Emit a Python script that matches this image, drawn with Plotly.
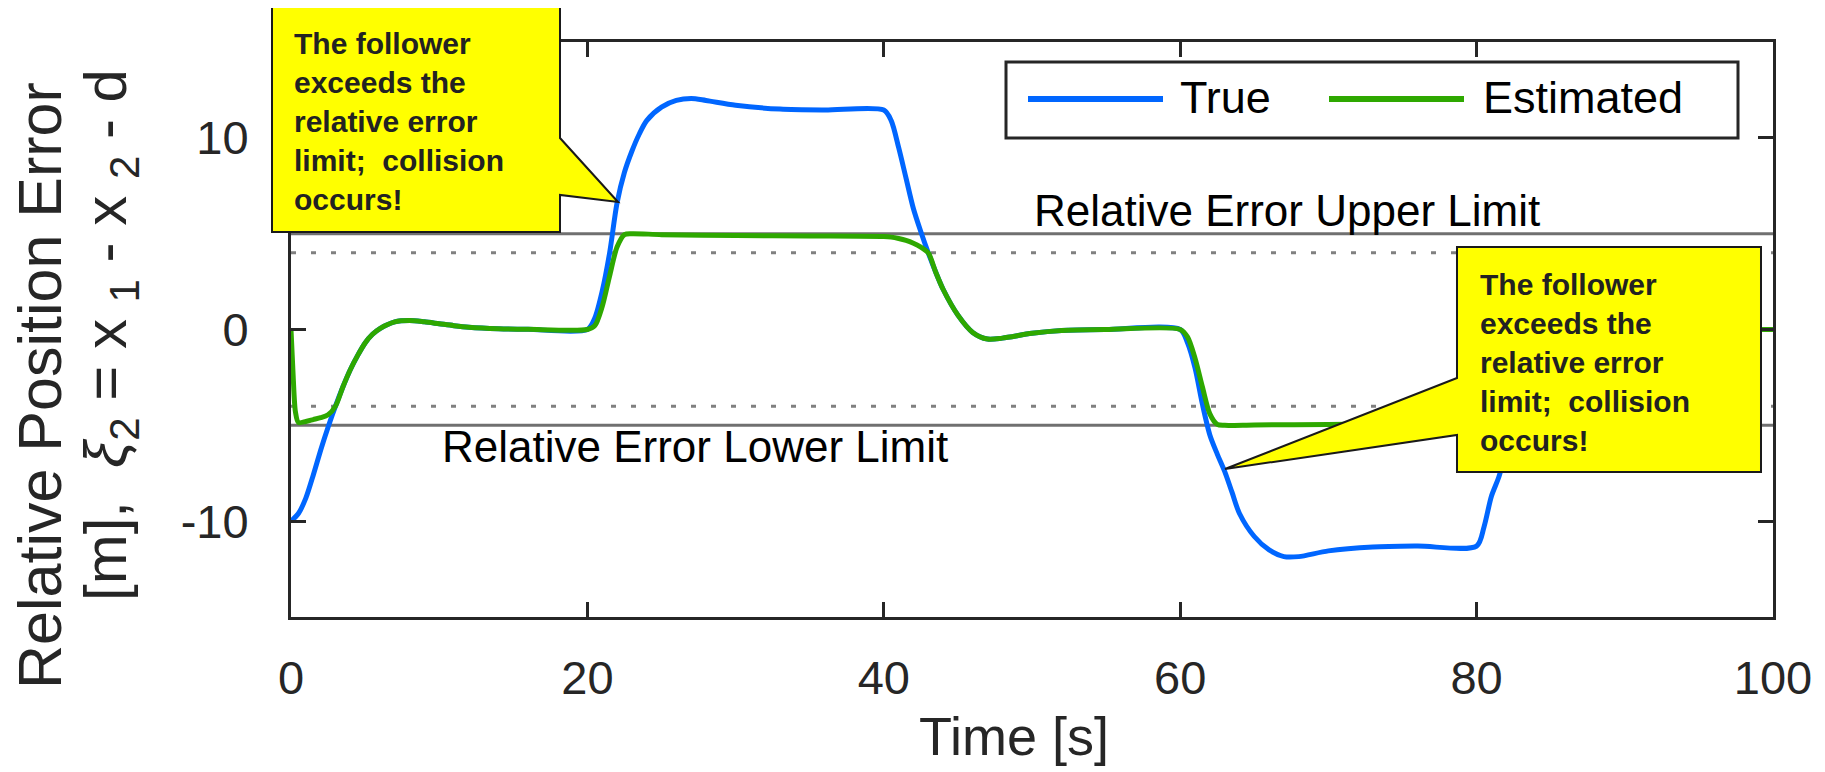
import plotly.graph_objects as go

# ---------------- data ----------------
t_true = [0, 0.5, 1, 1.5, 2, 2.5, 3, 3.5, 4, 4.5, 5, 5.5, 6, 7, 8, 9, 10, 11, 12, 14, 16, 20,
          20.5, 21, 21.5, 22, 22.5, 23, 23.5, 24, 25, 26, 27, 28, 30, 33, 36, 40,
          40.5, 41, 41.5, 42, 42.5, 43, 43.5, 44, 45, 46, 47, 48, 50, 52, 55, 60,
          60.5, 61, 61.5, 62, 62.5, 63, 63.5, 64, 65, 66, 67, 68, 70, 73, 76, 80,
          80.5, 81, 81.5, 82, 82.5, 83, 83.5, 84, 85, 86, 87, 88, 90, 92, 95, 100]
y_true = [-10, -9.6, -8.8, -7.6, -6.3, -5.1, -4.0, -3.0, -2.1, -1.35, -0.7, -0.25, 0.05, 0.4, 0.47, 0.4, 0.3, 0.2, 0.12, 0.04, 0.01, 0.0,
          0.6, 2.0, 4.0, 6.6, 8.2, 9.3, 10.2, 10.9, 11.6, 11.95, 12.05, 11.95, 11.7, 11.5, 11.45, 11.45,
          10.9, 9.5, 7.9, 6.3, 5.1, 4.0, 3.0, 2.1, 0.75, -0.15, -0.5, -0.45, -0.2, -0.05, 0.0, 0.0,
          -0.7, -2.0, -3.9, -5.5, -6.5, -7.4, -8.5, -9.6, -10.8, -11.5, -11.85, -11.85, -11.55, -11.35, -11.3, -11.3,
          -10.3, -8.7, -7.7, -6.3, -5.1, -4.0, -3.0, -2.1, -0.75, 0.15, 0.5, 0.45, 0.2, 0.05, 0.0, 0.0]

t_est = [0, 0.15, 0.3, 0.5, 1, 1.5, 2, 2.5, 3, 3.5, 4, 4.5, 5, 5.5, 6, 7, 8, 9, 10, 11, 12, 14, 16, 20,
         20.5, 21, 21.5, 22, 22.5, 23, 25, 30, 35, 40,
         40.5, 41, 41.5, 42, 42.5, 43, 43.5, 44, 45, 46, 47, 48, 50, 52, 55, 60,
         60.5, 61, 61.5, 62, 62.5, 63, 65, 70, 75, 80,
         80.5, 81, 81.5, 82, 82.5, 83, 83.5, 84, 85, 86, 87, 88, 90, 92, 95, 100]
y_est = [0, -2.5, -4.3, -4.85, -4.8, -4.7, -4.6, -4.45, -4.0, -3.0, -2.1, -1.35, -0.7, -0.25, 0.05, 0.4, 0.47, 0.4, 0.3, 0.2, 0.12, 0.04, 0.01, 0.0,
         0.2, 1.2, 2.8, 4.3, 4.95, 5.0, 4.95, 4.9, 4.88, 4.85,
         4.82, 4.75, 4.65, 4.5, 4.3, 4.0, 3.0, 2.1, 0.75, -0.15, -0.5, -0.45, -0.2, -0.05, 0.0, 0.0,
         -0.4, -1.5, -3.0, -4.4, -4.95, -5.0, -4.98, -4.95, -4.92, -4.9,
         -4.87, -4.8, -4.7, -4.55, -4.35, -4.0, -3.0, -2.1, -0.75, 0.15, 0.5, 0.45, 0.2, 0.05, 0.0, 0.0]

error_limits = [5, -5]
inner_limits = [4, -4]
t_span = [0, 100]

x_ticks = [0, 20, 40, 60, 80, 100]
y_ticks = [-10, 0, 10]
y_tick_text = ["-10", "0", "10"]

series_names = ["True", "Estimated"]
callout_text = "The follower<br>exceeds the<br>relative error<br>limit;\u00a0 collision<br>occurs!"

# ---------------- layout helpers ----------------
OFF = 8  # page body margin
W, H = 1825 - OFF, 772 - OFF
L, R, T, B = 291, 1773, 42, 617   # plot area in window pixels
def px(x):
    return (x - L) / (R - L)
def py(y):
    return (B - y) / (B - T)

FONT = "Liberation Sans, Arial, Helvetica, sans-serif"
BLUE = "#0066FF"
GREEN = "#2EA800"
AX = "#262626"

fig = go.Figure()

for v in error_limits:
    fig.add_trace(go.Scatter(x=t_span, y=[v, v], mode="lines",
                             line=dict(color="#707070", width=3),
                             showlegend=False, hoverinfo="skip"))
for v in inner_limits:
    fig.add_trace(go.Scatter(x=t_span, y=[v, v], mode="lines",
                             line=dict(color="#808080", width=3, dash="5px,15px"),
                             showlegend=False, hoverinfo="skip"))

fig.add_trace(go.Scatter(x=t_true, y=y_true, mode="lines", name=series_names[0],
                         line=dict(color=BLUE, width=5, shape="spline", smoothing=0.8),
                         showlegend=False))
fig.add_trace(go.Scatter(x=t_est, y=y_est, mode="lines", name=series_names[1],
                         line=dict(color=GREEN, width=5, shape="spline", smoothing=0.8),
                         showlegend=False))

shapes = []
annotations = []

# callouts
c1 = [(272, 7), (560, 7), (560, 138), (618, 202), (560, 195), (560, 232), (272, 232)]
c2 = [(1457, 247), (1761, 247), (1761, 472), (1457, 472), (1457, 435), (1225, 469), (1457, 378)]
for poly in (c1, c2):
    path = "M " + " L ".join(f"{px(x):.5f},{py(y):.5f}" for x, y in poly) + " Z"
    shapes.append(dict(type="path", xref="paper", yref="paper", path=path,
                       fillcolor="#FFFF00", line=dict(color="#1a1a1a", width=2), layer="above"))

for (xl, yc) in ((292, 122), (1478, 362)):
    annotations.append(dict(xref="paper", yref="paper", x=px(xl), y=py(yc),
                            xanchor="left", yanchor="middle", align="left",
                            text="<b>" + callout_text + "</b>", showarrow=False,
                            font=dict(family=FONT, size=30, color="#222222")))

# limit labels
annotations.append(dict(xref="paper", yref="paper", x=px(1032), y=py(210),
                        xanchor="left", yanchor="middle", text="Relative Error Upper Limit",
                        showarrow=False, font=dict(family=FONT, size=44, color="#000000")))
annotations.append(dict(xref="paper", yref="paper", x=px(440), y=py(447),
                        xanchor="left", yanchor="middle", text="Relative Error Lower Limit",
                        showarrow=False, font=dict(family=FONT, size=44, color="#000000")))

# legend (manual)
shapes.append(dict(type="rect", xref="paper", yref="paper",
                   x0=px(1006), x1=px(1738), y0=py(62), y1=py(138),
                   fillcolor="white", line=dict(color=AX, width=3), layer="above"))
shapes.append(dict(type="line", xref="paper", yref="paper",
                   x0=px(1028), x1=px(1163), y0=py(99), y1=py(99),
                   line=dict(color=BLUE, width=6), layer="above"))
shapes.append(dict(type="line", xref="paper", yref="paper",
                   x0=px(1329), x1=px(1464), y0=py(99), y1=py(99),
                   line=dict(color=GREEN, width=6), layer="above"))
annotations.append(dict(xref="paper", yref="paper", x=px(1178), y=py(98),
                        xanchor="left", yanchor="middle", text=series_names[0], showarrow=False,
                        font=dict(family=FONT, size=45, color="#000000")))
annotations.append(dict(xref="paper", yref="paper", x=px(1481), y=py(98),
                        xanchor="left", yanchor="middle", text=series_names[1], showarrow=False,
                        font=dict(family=FONT, size=45, color="#000000")))

# axis titles
annotations.append(dict(xref="paper", yref="paper", x=px(1014), y=py(736),
                        xanchor="center", yanchor="middle", text="Time [s]", showarrow=False,
                        font=dict(family=FONT, size=54, color=AX)))
annotations.append(dict(xref="paper", yref="paper", x=px(40), y=py(386),
                        xanchor="center", yanchor="middle", textangle=-90,
                        text="Relative Position Error", showarrow=False,
                        font=dict(family=FONT, size=61, color=AX)))
annotations.append(dict(xref="paper", yref="paper", x=px(110), y=py(335),
                        xanchor="center", yanchor="middle", textangle=-90,
                        text="[m],\u00a0 <i>ξ</i><sub>2</sub> = x <sub>1</sub> - x <sub>2</sub> - d",
                        showarrow=False,
                        font=dict(family=FONT, size=60, color=AX)))

fig.update_layout(
    width=W, height=H,
    margin=dict(l=L - OFF, r=W - (R - OFF), t=T - OFF, b=H - (B - OFF), pad=0),
    paper_bgcolor="white", plot_bgcolor="white",
    showlegend=False,
    shapes=shapes, annotations=annotations,
    font=dict(family=FONT, color=AX),
)
fig.update_xaxes(range=[0, 100], tickvals=x_ticks, ticks="inside", ticklen=15, tickwidth=2.5,
                 tickcolor=AX, showline=True, linewidth=3, linecolor=AX, mirror="allticks",
                 showgrid=False, zeroline=False, tickfont=dict(family=FONT, size=47, color=AX),
                 ticklabelstandoff=18)
fig.update_yaxes(range=[-15, 15], tickvals=y_ticks, ticktext=y_tick_text, ticks="inside",
                 ticklen=15, tickwidth=2.5, tickcolor=AX, showline=True, linewidth=3,
                 linecolor=AX, mirror="allticks", showgrid=False, zeroline=False,
                 tickfont=dict(family=FONT, size=47, color=AX), ticklabelstandoff=30)

fig.write_html("out.html")
